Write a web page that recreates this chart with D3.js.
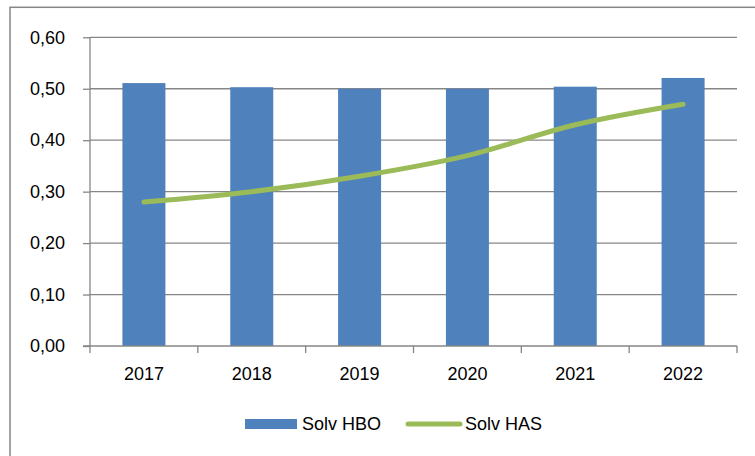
<!DOCTYPE html>
<html>
<head>
<meta charset="utf-8">
<script src="https://cdn.jsdelivr.net/npm/d3@7"></script>
<style>
  html, body { margin: 0; padding: 0; background: #fff; }
  svg { display: block; font-family: "Liberation Sans", Arial, sans-serif; }
</style>
</head>
<body>
<svg id="chart" width="755" height="456"></svg>
<script>
const years = ["2017", "2018", "2019", "2020", "2021", "2022"];
const solvHBO = [0.511, 0.503, 0.500, 0.500, 0.504, 0.521];
const solvHAS = [0.28, 0.30, 0.33, 0.37, 0.43, 0.47];
const yTicks = [0, 0.1, 0.2, 0.3, 0.4, 0.5, 0.6];
const seriesNames = ["Solv HBO", "Solv HAS"];

const blue = "#4F81BD";
const green = "#9BBB59";
const gray = "#868686";

const svg = d3.select("#chart");
const plot = { left: 90, right: 737, top: 37.3, bottom: 346 };

// outer chart frame (only left and top edges fall inside the window)
svg.append("rect")
  .attr("x", 10).attr("y", 7.3)
  .attr("width", 800).attr("height", 500)
  .attr("fill", "none")
  .attr("stroke", gray)
  .attr("stroke-width", 1.5);

const x = d3.scaleBand().domain(years).range([plot.left, plot.right]).paddingInner(0.6).paddingOuter(0.3);
const xc = d3.scalePoint().domain(years).range([plot.left, plot.right]).padding(0.5);
const y = d3.scaleLinear().domain([0, 0.6]).range([plot.bottom, plot.top]);

const fmt = (v) => d3.format(".2f")(v).replace(".", ",");

// gridlines
svg.append("g")
  .selectAll("line")
  .data(yTicks.filter((t) => t > 0))
  .join("line")
  .attr("x1", plot.left).attr("x2", plot.right)
  .attr("y1", (d) => y(d)).attr("y2", (d) => y(d))
  .attr("stroke", gray)
  .attr("stroke-width", 1.3);

// bars
svg.append("g")
  .selectAll("rect")
  .data(years)
  .join("rect")
  .attr("x", (d) => xc(d) - 21.5)
  .attr("width", 43)
  .attr("y", (d, i) => y(solvHBO[i]))
  .attr("height", (d, i) => y(0) - y(solvHBO[i]))
  .attr("fill", blue);

// y axis
const yAxis = svg.append("g")
  .attr("transform", `translate(${plot.left},0)`)
  .call(d3.axisLeft(y).tickValues(yTicks).tickFormat(fmt).tickSize(7).tickPadding(18));
yAxis.select(".domain").attr("stroke", gray).attr("stroke-width", 1.3).attr("d", `M0,${plot.top}V${plot.bottom}`);
yAxis.selectAll(".tick line").attr("stroke", gray).attr("stroke-width", 1.3);
yAxis.selectAll(".tick text").attr("font-size", 18).attr("fill", "#000").attr("font-family", "Liberation Sans, Arial, sans-serif");

// x axis: ticks between categories
const xAxis = svg.append("g").attr("transform", `translate(0,${plot.bottom})`);
xAxis.append("line")
  .attr("x1", plot.left - 7).attr("x2", plot.right)
  .attr("stroke", gray).attr("stroke-width", 1.3);
const step = (plot.right - plot.left) / years.length;
xAxis.selectAll("line.tk")
  .data(d3.range(years.length + 1))
  .join("line")
  .attr("class", "tk")
  .attr("x1", (d) => plot.left + d * step).attr("x2", (d) => plot.left + d * step)
  .attr("y1", 0).attr("y2", 7)
  .attr("stroke", gray).attr("stroke-width", 1.3);
xAxis.selectAll("text")
  .data(years)
  .join("text")
  .attr("x", (d) => xc(d))
  .attr("y", 34)
  .attr("text-anchor", "middle")
  .attr("font-size", 18)
  .attr("fill", "#000")
  .text((d) => d);

// line series
const line = d3.line()
  .x((d, i) => xc(years[i]))
  .y((d) => y(d))
  .curve(d3.curveCatmullRom.alpha(0.5));
svg.append("path")
  .datum(solvHAS)
  .attr("d", line)
  .attr("fill", "none")
  .attr("stroke", green)
  .attr("stroke-width", 5)
  .attr("stroke-linecap", "round")
  .attr("stroke-linejoin", "round");

// legend
const legend = svg.append("g");
legend.append("rect")
  .attr("x", 245).attr("y", 419).attr("width", 52).attr("height", 10)
  .attr("fill", blue);
legend.append("text")
  .attr("x", 302).attr("y", 430)
  .attr("font-size", 18).attr("fill", "#000")
  .text(seriesNames[0]);
legend.append("line")
  .attr("x1", 408).attr("x2", 460).attr("y1", 424).attr("y2", 424)
  .attr("stroke", green).attr("stroke-width", 5).attr("stroke-linecap", "round");
legend.append("text")
  .attr("x", 465).attr("y", 430)
  .attr("font-size", 18).attr("fill", "#000")
  .text(seriesNames[1]);
</script>
</body>
</html>
